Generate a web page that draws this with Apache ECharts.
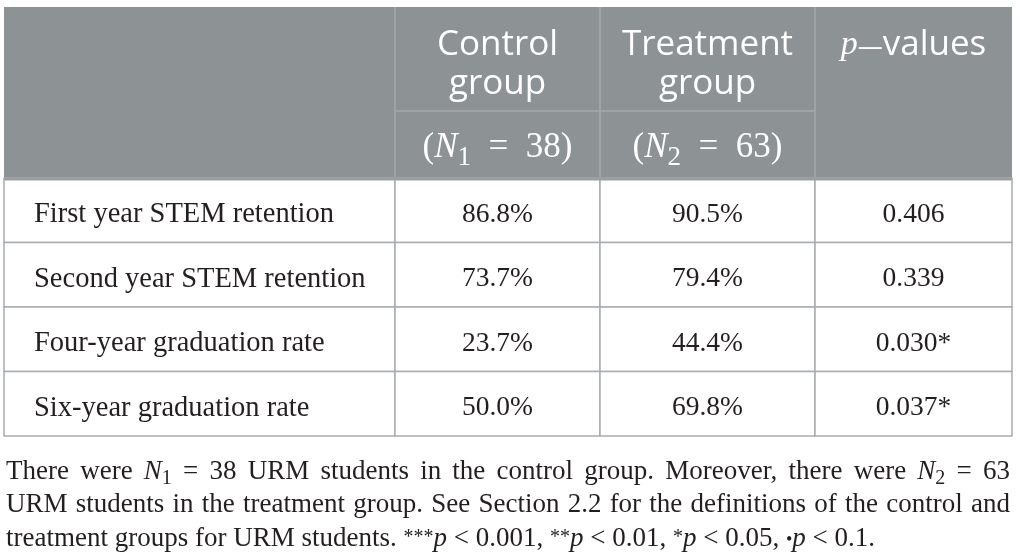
<!DOCTYPE html>
<html>
<head>
<meta charset="utf-8">
<script src="https://cdn.jsdelivr.net/npm/echarts@6/dist/echarts.min.js"></script>
<style>
  html, body { margin: 0; padding: 0; background: #fff; }
  #table { width: 1020px; height: 560px; }
</style>
</head>
<body>
<div id="table"></div>
<script>
// table content
const rowLabels = [
  "First year STEM retention",
  "Second year STEM retention",
  "Four-year graduation rate",
  "Six-year graduation rate",
];
const groupNames = ["Control", "Treatment"];
const groupSizes = [38, 63];
const controlRates = [86.8, 73.7, 23.7, 50.0];
const treatmentRates = [90.5, 79.4, 44.4, 69.8];
const pValues = [0.406, 0.339, 0.030, 0.037];
const sigLevels = [[0.001, "***"], [0.01, "**"], [0.05, "*"], [0.1, "•"]];

const stars = (p) => {
  for (const [t, s] of sigLevels) if (p < t) return s;
  return "";
};

let chartDom = document.getElementById("table");
let myChart = echarts.init(chartDom);

// layout
const colEdges = [4, 395, 600, 815, 1012];
const headTop = 7, headMid = 111, headBottom = 178, bodyBottom = 436;
const serif = '"Liberation Serif"';
const sans = '"Open Sans"';
const ink = "#231f20";
const rule = "#a9adb0";
const headFill = "#8d9295";

const cellText = [
  rowLabels,
  controlRates.map((v) => v.toFixed(1) + "%"),
  treatmentRates.map((v) => v.toFixed(1) + "%"),
  pValues.map((v) => v.toFixed(3) + stars(v)),
];

const cellSeries = (col) => ({
  type: "custom",
  xAxisIndex: col,
  yAxisIndex: col,
  data: rowLabels.map((_, r) => [0, r]),
  renderItem: function (params, api) {
    const c = api.coord([0, api.value(1)]);
    const s = api.size([1, 1]);
    const x = c[0] - s[0] / 2, y = c[1] - s[1] / 2;
    return {
      type: "group",
      children: [
        {
          type: "rect",
          shape: { x: x, y: y, width: s[0], height: s[1] },
          style: { fill: "#fff", stroke: rule, lineWidth: 1.5 },
        },
        {
          type: "text",
          style: {
            text: cellText[col][params.dataIndex],
            x: col === 0 ? x + 30 : c[0],
            y: c[1] + 4.5,
            align: col === 0 ? "left" : "center",
            verticalAlign: "middle",
            fontFamily: serif,
            fontSize: col === 0 ? 28.5 : 27.5,
            fill: ink,
          },
        },
      ],
    };
  },
});

// runs of mixed text (italic, sub/superscript) placed fragment by fragment
const styles = {
  hs: { family: sans, size: 35, mid: 0.285, dy: 0, fill: "#fff" },
  hdash: { family: sans, size: 25, mid: 0.285, dy: 0, fill: "#fff" },
  hr: { family: serif, size: 35, mid: 0.305, dy: 0, fill: "#fff" },
  hi: { family: serif, size: 35, italic: true, mid: 0.305, dy: 0, fill: "#fff" },
  hp: { family: serif, size: 34, italic: true, mid: 0.305, dy: 0, fill: "#fff" },
  hsub: { family: serif, size: 27, mid: 0.305, dy: 8, fill: "#fff" },
  n: { family: serif, size: 27, mid: 0.305, dy: 0, fill: ink },
  i: { family: serif, size: 27, italic: true, mid: 0.305, dy: 0, fill: ink },
  sub: { family: serif, size: 20, mid: 0.305, dy: 5, fill: ink },
  sup: { family: serif, size: 20, mid: 0.305, dy: -3, fill: ink },
  dot: { family: serif, size: 18, mid: 0.305, dy: -1, fill: ink },
};
const ctx = document.createElement("canvas").getContext("2d");
const fontOf = (st) => (st.italic ? "italic " : "") + st.size + "px " + st.family;
const measure = (t, key) => {
  ctx.font = fontOf(styles[key]);
  return ctx.measureText(t).width;
};
const runWidth = (frags) => frags.reduce((a, f) => a + measure(f[0], f[1]), 0);
const placeRun = (frags, x, baseline, out) => {
  frags.forEach(([t, key]) => {
    const st = styles[key];
    out.push({
      type: "text",
      x: x,
      y: baseline + st.dy - st.mid * st.size,
      z: 10,
      style: {
        text: t,
        fontFamily: st.family,
        fontSize: st.size,
        fontStyle: st.italic ? "italic" : "normal",
        fill: st.fill,
        verticalAlign: "middle",
      },
    });
    x += measure(t, key);
  });
};
const placeCentered = (frags, cx, baseline, out) => placeRun(frags, cx - runWidth(frags) / 2, baseline, out);

// header
const header = [
  {
    type: "rect",
    shape: { x: colEdges[0], y: headTop, width: colEdges[4] - colEdges[0], height: headBottom - headTop },
    style: { fill: headFill },
  },
  ...[1, 2, 3].map((i) => ({
    type: "line",
    shape: { x1: colEdges[i], y1: headTop, x2: colEdges[i], y2: headBottom },
    style: { stroke: "#a4a8ab", lineWidth: 1.5 },
    z: 5,
  })),
  {
    type: "line",
    shape: { x1: colEdges[1], y1: headMid, x2: colEdges[3], y2: headMid },
    style: { stroke: "#a4a8ab", lineWidth: 1.5 },
    z: 5,
  },
  {
    type: "line",
    shape: { x1: colEdges[0], y1: headBottom + 1, x2: colEdges[4], y2: headBottom + 1 },
    style: { stroke: "#9a9ea1", lineWidth: 3 },
    z: 6,
  },
];
groupNames.forEach((g, k) => {
  const cx = (colEdges[k + 1] + colEdges[k + 2]) / 2;
  placeCentered([[g, "hs"]], cx, 55, header);
  placeCentered([["group", "hs"]], cx, 94, header);
  placeCentered([["(", "hr"], ["N", "hi"], [String(k + 1), "hsub"], ["\u2002=\u2002", "hr"], [groupSizes[k] + ")", "hr"]], cx, 158, header);
});
placeCentered([["p", "hp"], ["\u2014", "hdash"], ["values", "hs"]], (colEdges[3] + colEdges[4]) / 2, 55, header);

// footnote, justified like the journal layout
const noteLines = [
  {
    justify: true,
    words: ["There", "were", [["N", "i"], ["1", "sub"]], "=", String(groupSizes[0]), "URM", "students", "in", "the",
      "control", "group.", "Moreover,", "there", "were", [["N", "i"], ["2", "sub"]], "=", String(groupSizes[1])],
  },
  {
    justify: true,
    words: ["URM", "students", "in", "the", "treatment", "group.", "See", "Section", "2.2", "for", "the",
      "definitions", "of", "the", "control", "and"],
  },
  {
    justify: false,
    words: ["treatment", "groups", "for", "URM", "students.",
      [["***", "sup"], ["p", "i"]], "<", "0.001,", [["**", "sup"], ["p", "i"]], "<", "0.01,",
      [["*", "sup"], ["p", "i"]], "<", "0.05,", [["\u2022", "dot"], ["p", "i"]], "<", "0.1."],
  },
];
const noteX0 = 6, noteX1 = 1010, noteBase0 = 480, noteStep = 33.5;
const footnote = [];
noteLines.forEach((line, li) => {
  const words = line.words.map((w) => (typeof w === "string" ? [[w, "n"]] : w));
  const widths = words.map(runWidth);
  const total = widths.reduce((a, b) => a + b, 0);
  const space = measure(" ", "n");
  const gap = line.justify ? Math.max(space * 0.6, (noteX1 - noteX0 - total) / (words.length - 1)) : space;
  let x = noteX0;
  words.forEach((w, k) => {
    placeRun(w, x, noteBase0 + li * noteStep, footnote);
    x += widths[k] + gap;
  });
});

let option = {
  animation: false,
  grid: [0, 1, 2, 3].map((i) => ({
    left: colEdges[i],
    width: colEdges[i + 1] - colEdges[i],
    top: headBottom,
    height: bodyBottom - headBottom,
  })),
  xAxis: [0, 1, 2, 3].map((i) => ({ type: "category", gridIndex: i, data: [""], show: false })),
  yAxis: [0, 1, 2, 3].map((i) => ({ type: "category", gridIndex: i, data: rowLabels, inverse: true, show: false })),
  series: [0, 1, 2, 3].map(cellSeries),
  graphic: { elements: header.concat(footnote) },
};

option && myChart.setOption(option);
</script>
</body>
</html>
